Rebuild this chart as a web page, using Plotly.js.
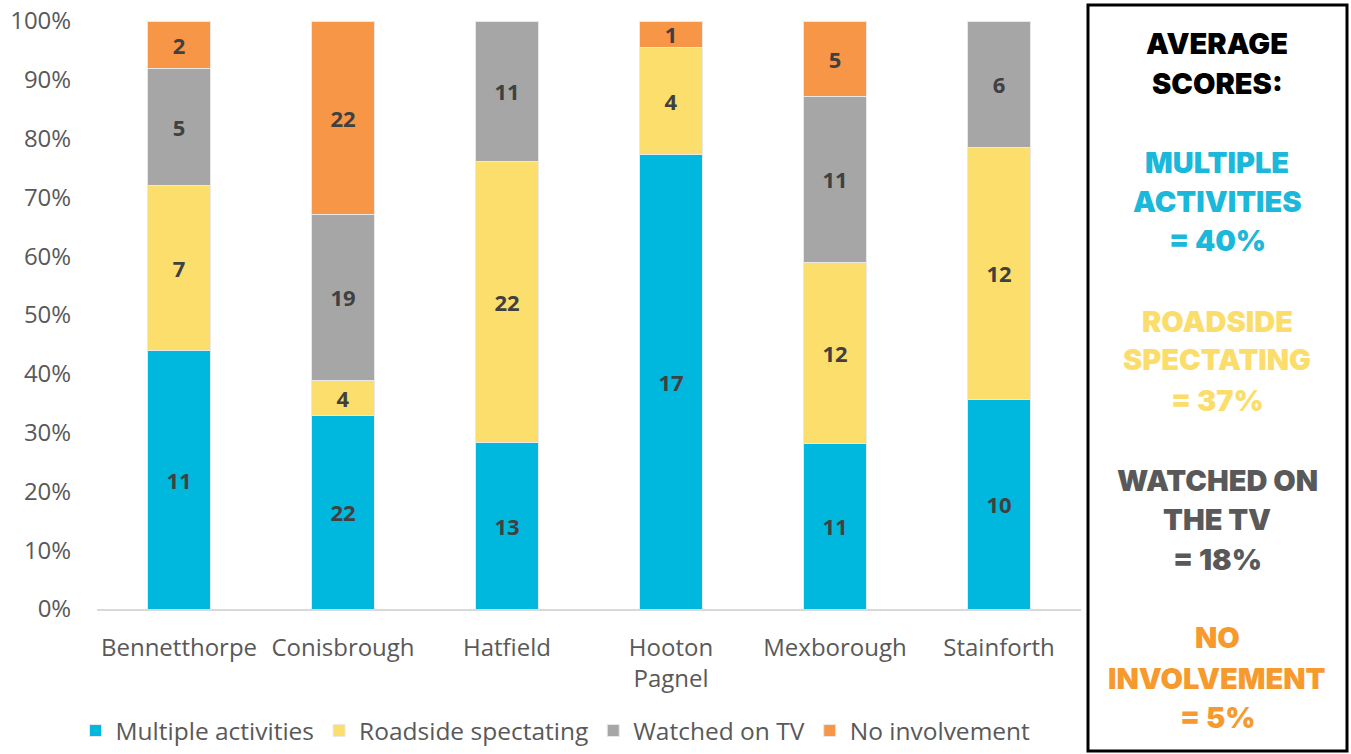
<!DOCTYPE html>
<html>
<head>
<meta charset="utf-8">
<script src="https://cdn.plot.ly/plotly-3.0.1.min.js"></script>
<style>html,body{margin:0;padding:0;background:#fff;}#chart{width:1351px;height:754px;}</style>
</head>
<body>
<div id="chart"></div>
<script>
const categories = ["Bennetthorpe", "Conisbrough", "Hatfield", "Hooton Pagnel", "Mexborough", "Stainforth"];
const tickLabels = ["Bennetthorpe", "Conisbrough", "Hatfield", "Hooton<br>Pagnel", "Mexborough", "Stainforth"];
const multipleActivities = [11, 22, 13, 17, 11, 10];
const roadsideSpectating = [7, 4, 22, 4, 12, 12];
const watchedOnTV = [5, 19, 11, 0, 11, 6];
const noInvolvement = [2, 22, 0, 1, 5, 0];
const seriesNames = ["Multiple activities", "Roadside spectating", "Watched on TV", "No involvement"];
const seriesColors = ["#00B7DE", "#FCDE6C", "#A6A6A6", "#F79646"];
const averageLines = [
  ["AVERAGE", "SCORES:"],
  ["MULTIPLE", "ACTIVITIES", "= 40%"],
  ["ROADSIDE", "SPECTATING", "= 37%"],
  ["WATCHED ON", "THE TV", "= 18%"],
  ["NO", "INVOLVEMENT", "= 5%"]
];
const averageColors = ["#000000", "#1AB8DB", "#FBDD6B", "#595959", "#F79A2E"];

const seriesData = [multipleActivities, roadsideSpectating, watchedOnTV, noInvolvement];
const traces = seriesData.map((vals, i) => ({
  type: "bar",
  name: seriesNames[i],
  x: categories,
  y: vals,
  text: vals.map(v => v > 0 ? String(v) : ""),
  textposition: "inside",
  insidetextanchor: "middle",
  textangle: 0,
  constraintext: "none",
  textfont: {family: "Open Sans, sans-serif", size: 22, color: "#404040", weight: "bold"},
  marker: {color: seriesColors[i], line: {color: "#E8E8E8", width: 1}},
  hoverinfo: "skip"
}));

const W = 1351, H = 754;
const L = 97, R = 1081, T = 21, B = 609;
const pw = R - L, ph = B - T;
const px = x => (x - L) / pw;
const py = y => (B - y) / ph;

const annotations = [];
const lineYs = [[44, 83], [162, 201, 241], [321, 360, 400], [480, 519, 559], [638, 678, 717]];
averageLines.forEach((grp, gi) => {
  grp.forEach((txt, li) => {
    annotations.push({
      xref: "paper", yref: "paper",
      x: px(1217), y: py(lineYs[gi][li]),
      xanchor: "center", yanchor: "middle",
      text: txt, showarrow: false,
      font: {family: "Inter, Roboto, sans-serif", size: 29, color: averageColors[gi], weight: 900}
    });
  });
});

const layout = {
  width: W, height: H,
  margin: {l: L, r: W - R, t: T, b: H - B},
  paper_bgcolor: "#ffffff",
  plot_bgcolor: "#ffffff",
  barmode: "stack",
  barnorm: "percent",
  bargap: 0.61,
  uniformtext: {mode: "show", minsize: 22},
  font: {family: "Open Sans, sans-serif", color: "#595959"},
  xaxis: {
    tickvals: categories, ticktext: tickLabels,
    tickfont: {size: 24, color: "#595959"},
    showline: true, linecolor: "#D9D9D9", linewidth: 2,
    ticks: "outside", ticklen: 16, tickcolor: "rgba(0,0,0,0)",
    showgrid: false, fixedrange: true
  },
  yaxis: {
    range: [0, 100], dtick: 10, ticksuffix: "%",
    tickfont: {size: 24, color: "#595959"},
    showgrid: false, zeroline: false, showline: false,
    ticks: "outside", ticklen: 20, tickcolor: "rgba(0,0,0,0)", fixedrange: true
  },
  showlegend: true,
  legend: {
    orientation: "h", xref: "paper", x: 0.466, xanchor: "center",
    yref: "container", y: 0.031, yanchor: "middle",
    font: {size: 24.5, color: "#595959"}, traceorder: "normal", itemwidth: 30
  },
  shapes: [{
    type: "rect", xref: "paper", yref: "paper",
    x0: px(1088), x1: px(1347), y0: py(751), y1: py(5),
    line: {color: "#000000", width: 3}, fillcolor: "rgba(0,0,0,0)"
  }],
  annotations: annotations
};

Plotly.newPlot("chart", traces, layout, {displayModeBar: false, staticPlot: true});
</script>
</body>
</html>
